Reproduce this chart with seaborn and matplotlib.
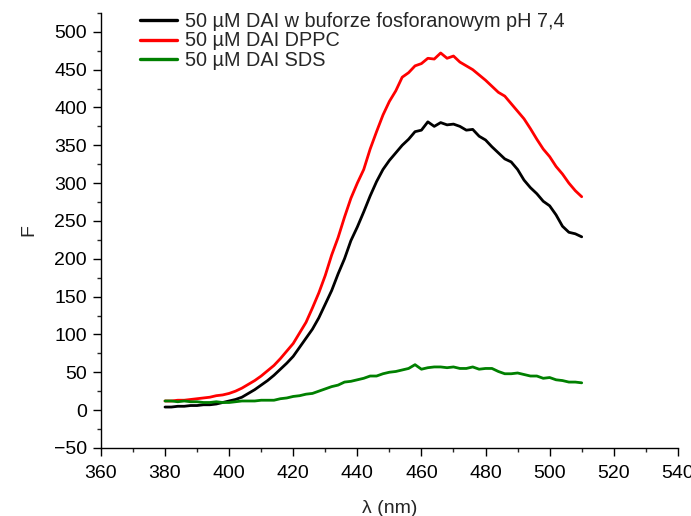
import numpy as np
import pandas as pd
import matplotlib
matplotlib.use("Agg")
import matplotlib.pyplot as plt
from matplotlib.ticker import MultipleLocator
import seaborn as sns

wavelength = list(range(380, 511, 2))

black_vals = [4, 4, 5, 5, 6, 6, 7, 7, 8, 10,
              12, 14, 17, 22, 27, 33, 39, 46, 54, 62,
              71, 83, 95, 107, 122, 140, 158, 180, 200, 224,
              242, 262, 283, 302, 318, 330, 340, 350, 358, 368,
              370, 381, 375, 380, 377, 378, 375, 370, 371, 362,
              357, 348, 340, 332, 328, 318, 304, 294, 286, 276,
              270, 258, 243, 235, 233, 229]

red_vals = [12, 12, 13, 13, 14, 15, 16, 17, 19, 20,
            22, 25, 29, 34, 39, 45, 52, 59, 68, 78,
            88, 102, 116, 135, 155, 178, 205, 228, 255, 280,
            300, 318, 345, 368, 390, 408, 422, 440, 446, 455,
            458, 465, 464, 472, 465, 468, 460, 455, 450, 443,
            436, 428, 420, 415, 405, 395, 385, 372, 358, 345,
            335, 322, 312, 300, 290, 282]

green_vals = [12, 12, 11, 12, 11, 11, 10, 10, 11, 10,
              10, 11, 12, 12, 12, 13, 13, 13, 15, 16,
              18, 19, 21, 22, 25, 28, 31, 33, 37, 38,
              40, 42, 45, 45, 48, 50, 51, 53, 55, 60,
              54, 56, 57, 57, 56, 57, 55, 55, 57, 54,
              55, 55, 51, 48, 48, 49, 47, 45, 45, 42,
              43, 40, 39, 37, 37, 36]

series_names = ["50 µM DAI w buforze fosforanowym pH 7,4",
                "50 µM DAI DPPC",
                "50 µM DAI SDS"]
series_colors = ["#000000", "#ff0000", "#008000"]

df = pd.concat([
    pd.DataFrame({"wl": wavelength, "F": vals, "series": name})
    for name, vals in zip(series_names, [black_vals, red_vals, green_vals])
], ignore_index=True)

sns.set_style("ticks")
plt.rcParams["font.family"] = ["Liberation Sans", "DejaVu Sans"]

fig = plt.figure(figsize=(6.91, 5.16), dpi=100)
ax = fig.add_axes([0.146, 0.132, 0.835, 0.843])

sns.lineplot(data=df, x="wl", y="F", hue="series", hue_order=series_names,
             palette=series_colors, linewidth=2.0, ax=ax, legend=True)

ax.set_xlim(360, 540)
ax.set_ylim(-50, 525)
ax.xaxis.set_major_locator(MultipleLocator(20))
ax.xaxis.set_minor_locator(MultipleLocator(10))
ax.yaxis.set_major_locator(MultipleLocator(50))
ax.yaxis.set_minor_locator(MultipleLocator(25))
ax.set_yticks(np.arange(-50, 501, 50))
ax.tick_params(which="major", direction="out", length=6, width=1, labelsize=14, colors="black")
ax.tick_params(which="minor", direction="out", length=3, width=1)
ax.tick_params(axis="x", which="major", pad=6)
ax.tick_params(axis="y", which="major", pad=4)
sns.despine(ax=ax)
for s in ["left", "bottom"]:
    ax.spines[s].set_linewidth(1.0)
    ax.spines[s].set_color("black")

ax.set_xlabel("λ (nm)", fontsize=14, labelpad=13)
ax.set_ylabel("F", fontsize=14, labelpad=12)

leg = ax.legend(loc="upper left", bbox_to_anchor=(0.2026, 0.9766),
                bbox_transform=fig.transFigure, frameon=False, fontsize=14.3,
                handlelength=1.86, handletextpad=0.42, labelspacing=0.02,
                borderpad=0.0, borderaxespad=0.0)
for line in leg.get_lines():
    line.set_linewidth(2.4)

fig.savefig("out.png", dpi=100)
